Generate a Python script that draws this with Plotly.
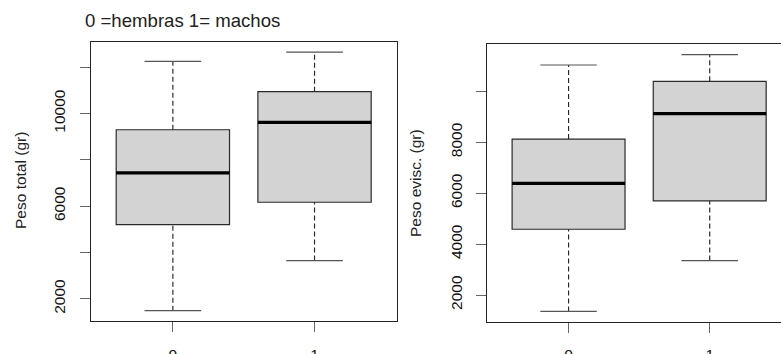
import plotly.graph_objects as go

W, H = 781, 354

# ---- data ----
groups = ["0", "1"]
total_q1 = [5207, 6170]
total_med = [7440, 9611]
total_q3 = [9296, 10937]
total_lo = [1495, 3654]
total_hi = [12245, 12647]

evisc_q1 = [4583, 5700]
evisc_med = [6381, 9123]
evisc_q3 = [8124, 10393]
evisc_lo = [1355, 3351]
evisc_hi = [11035, 11444]

total_ticks = [2000, 4000, 6000, 8000, 10000, 12000]
total_ticktext = ["2000", "", "6000", "", "10000", ""]
evisc_ticks = [2000, 4000, 6000, 8000, 10000]
evisc_ticktext = ["2000", "4000", "6000", "8000", ""]

title_text = "0 =hembras 1= machos"
ylab_total = "Peso total (gr)"
ylab_evisc = "Peso evisc. (gr)"

FONT = "Arial, Liberation Sans, sans-serif"
TICK_FS = 15.5
TITLE_FS = 18.6
BOXLINE = "#2a2a2a"
FILL = "#D3D3D3"
WHISK = "#2a2a2a"


def px(x):
    return x / W


def py(y):
    return 1 - y / H


fig = go.Figure()


def add_panel(xa, ya, q1, med, q3, lo, hi):
    pos = list(range(1, len(groups) + 1))
    for i, p in enumerate(pos):
        fig.add_trace(go.Box(
            x=[p], q1=[q1[i]], median=[med[i]], q3=[q3[i]],
            lowerfence=[q1[i]], upperfence=[q3[i]],
            width=0.8, fillcolor=FILL, line=dict(color=BOXLINE, width=1.2),
            xaxis=xa, yaxis=ya, showlegend=False, hoverinfo="skip",
        ))
        # dashed whiskers
        for a, b in ((q3[i], hi[i]), (lo[i], q1[i])):
            fig.add_trace(go.Scatter(
                x=[p, p], y=[a, b], mode="lines",
                line=dict(color=WHISK, width=1.2, dash="5px,3px"),
                xaxis=xa, yaxis=ya, showlegend=False, hoverinfo="skip",
            ))
        # caps
        for v in (hi[i], lo[i]):
            fig.add_trace(go.Scatter(
                x=[p - 0.2, p + 0.2], y=[v, v], mode="lines",
                line=dict(color="#555555", width=1.2),
                xaxis=xa, yaxis=ya, showlegend=False, hoverinfo="skip",
            ))
        # thick median
        fig.add_trace(go.Scatter(
            x=[p - 0.4, p + 0.4], y=[med[i], med[i]], mode="lines",
            line=dict(color="black", width=3.3),
            xaxis=xa, yaxis=ya, showlegend=False, hoverinfo="skip",
        ))


add_panel("x", "y", total_q1, total_med, total_q3, total_lo, total_hi)
add_panel("x2", "y2", evisc_q1, evisc_med, evisc_q3, evisc_lo, evisc_hi)


def yrange(lo, hi):
    a, b = min(lo), max(hi)
    d = (b - a) * 0.04
    return [a - d, b + d]


common_axis = dict(
    showgrid=False, zeroline=False, ticks="outside", ticklen=10,
    tickcolor="#666666", tickwidth=1, showline=True, linecolor="#222222",
    linewidth=1, automargin=False,
    tickfont=dict(family=FONT, size=TICK_FS, color="#111111"),
)

fig.update_layout(
    width=W, height=H,
    margin=dict(l=0, r=0, t=0, b=0),
    paper_bgcolor="white", plot_bgcolor="white",
    showlegend=False,
    xaxis=dict(domain=[px(90.7), px(396.7)], range=[0.42, 2.58],
               tickvals=[1, 2], ticktext=groups, mirror=True,
               anchor="y", ticklabelstandoff=9, **common_axis),
    yaxis=dict(domain=[py(321), py(41.7)], range=yrange(total_lo, total_hi),
               tickvals=total_ticks, ticktext=total_ticktext, tickangle=-90,
               mirror=True, anchor="x", ticklabelstandoff=9, **common_axis),
    xaxis2=dict(domain=[px(486.7), 1.0], range=[0.42, 2.505],
                tickvals=[1, 2], ticktext=groups, mirror=True,
                anchor="y2", ticklabelstandoff=9, **common_axis),
    yaxis2=dict(domain=[py(321.7), py(44.3)], range=yrange(evisc_lo, evisc_hi),
                tickvals=evisc_ticks, ticktext=evisc_ticktext, tickangle=-90,
                mirror=False, anchor="x2", ticklabelstandoff=8, **common_axis),
    annotations=[
        dict(text=title_text, x=px(83), y=py(21), xref="paper", yref="paper",
             xanchor="left", yanchor="middle", showarrow=False,
             font=dict(family=FONT, size=TITLE_FS, color="#222222")),
        dict(text=ylab_total, x=px(20), y=py(181), xref="paper", yref="paper",
             xanchor="center", yanchor="middle", showarrow=False, textangle=-90,
             font=dict(family=FONT, size=TICK_FS, color="#222222")),
        dict(text=ylab_evisc, x=px(416), y=py(183), xref="paper", yref="paper",
             xanchor="center", yanchor="middle", showarrow=False, textangle=-90,
             font=dict(family=FONT, size=TICK_FS, color="#222222")),
    ],
)

fig.write_html(
    "out.html",
    config={"displayModeBar": False},
    post_script="document.body.style.margin='0';document.body.style.padding='0';",
)
